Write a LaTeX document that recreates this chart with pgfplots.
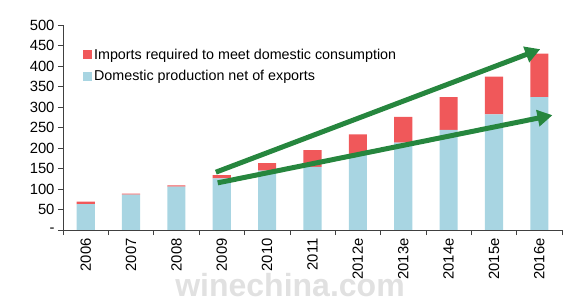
\documentclass[border=0pt]{standalone}
\usepackage{pgfplots}
\pgfplotsset{compat=1.18}
\usepackage{fontspec}
\setmainfont{Liberation Sans}
\usetikzlibrary{arrows.meta}
\definecolor{impred}{RGB}{240,88,90}
\definecolor{domblue}{RGB}{168,213,226}
\definecolor{arrgreen}{RGB}{38,134,62}
\pgfplotsset{sqlegend/.style={legend image code/.code={\fill[##1] (0bp,-4.5bp) rectangle (9bp,4.5bp);}}}
\begin{document}
\begin{tikzpicture}
\useasboundingbox (-63bp,-76bp) rectangle (515bp,230bp);
\begin{axis}[
  at={(0,0)}, anchor=south west,
  scale only axis, width=499bp, height=205bp,
  ybar stacked, bar width=0.4,
  xmin=-0.5, xmax=10.5, ymin=0, ymax=500,
  axis x line*=bottom, axis y line*=left,
  axis line style={draw=black!75, line width=0.6bp},
  xtick={0,...,10},
  xticklabels={2006,2007,2008,2009,2010,2011,2012e,2013e,2014e,2015e,2016e},
  minor xtick={-0.5,0.5,...,10.5},
  x tick label style={rotate=90, anchor=east},
  ytick={0,50,...,500},
  yticklabels={-,50,100,150,200,250,300,350,400,450,500},
  tick align=outside,
  major x tick style={draw=none},
  minor x tick style={draw=black!75, line width=0.6bp},
  y tick style={draw=black!75, line width=0.6bp},
  major tick length=5bp, minor tick length=5bp,
  tick label style={font=\fontsize{14.8bp}{16bp}\selectfont},
  /pgf/number format/assume math mode=true,
  legend style={at={(0.034,0.905)}, anchor=north west, draw=none, fill=none,
    font=\fontsize{14.3bp}{16bp}\selectfont, row sep=6bp},
  legend cell align=left,
  reverse legend,
]
\addplot[fill=domblue, draw=none, sqlegend] coordinates {
 (0,63) (1,86) (2,106) (3,126) (4,145) (5,154) (6,185) (7,213) (8,244) (9,282) (10,324)};
\addlegendentry{Domestic production net of exports}
\addplot[fill=impred, draw=none, sqlegend] coordinates {
 (0,6) (1,3) (2,3) (3,8) (4,18) (5,41) (6,48) (7,63) (8,80) (9,92) (10,106)};
\addlegendentry{Imports required to meet domestic consumption}
\end{axis}
\begin{axis}[
  at={(0,0)}, anchor=south west,
  scale only axis, width=499bp, height=205bp,
  xmin=-0.5, xmax=10.5, ymin=0, ymax=500,
  hide axis, clip=false,
]
\addplot[arrgreen, line width=5bp, mark=none, -{Triangle[length=15bp,width=16bp]}] coordinates {(2.87,141) (10.02,441)};
\addplot[arrgreen, line width=5bp, mark=none, -{Triangle[length=15bp,width=16bp]}] coordinates {(2.91,115) (10.29,280)};
\end{axis}
\node[text=gray!30, opacity=0.8, font=\fontsize{32bp}{34bp}\selectfont\bfseries] at (227bp,-55bp) {winechina.com};
\end{tikzpicture}
\end{document}
